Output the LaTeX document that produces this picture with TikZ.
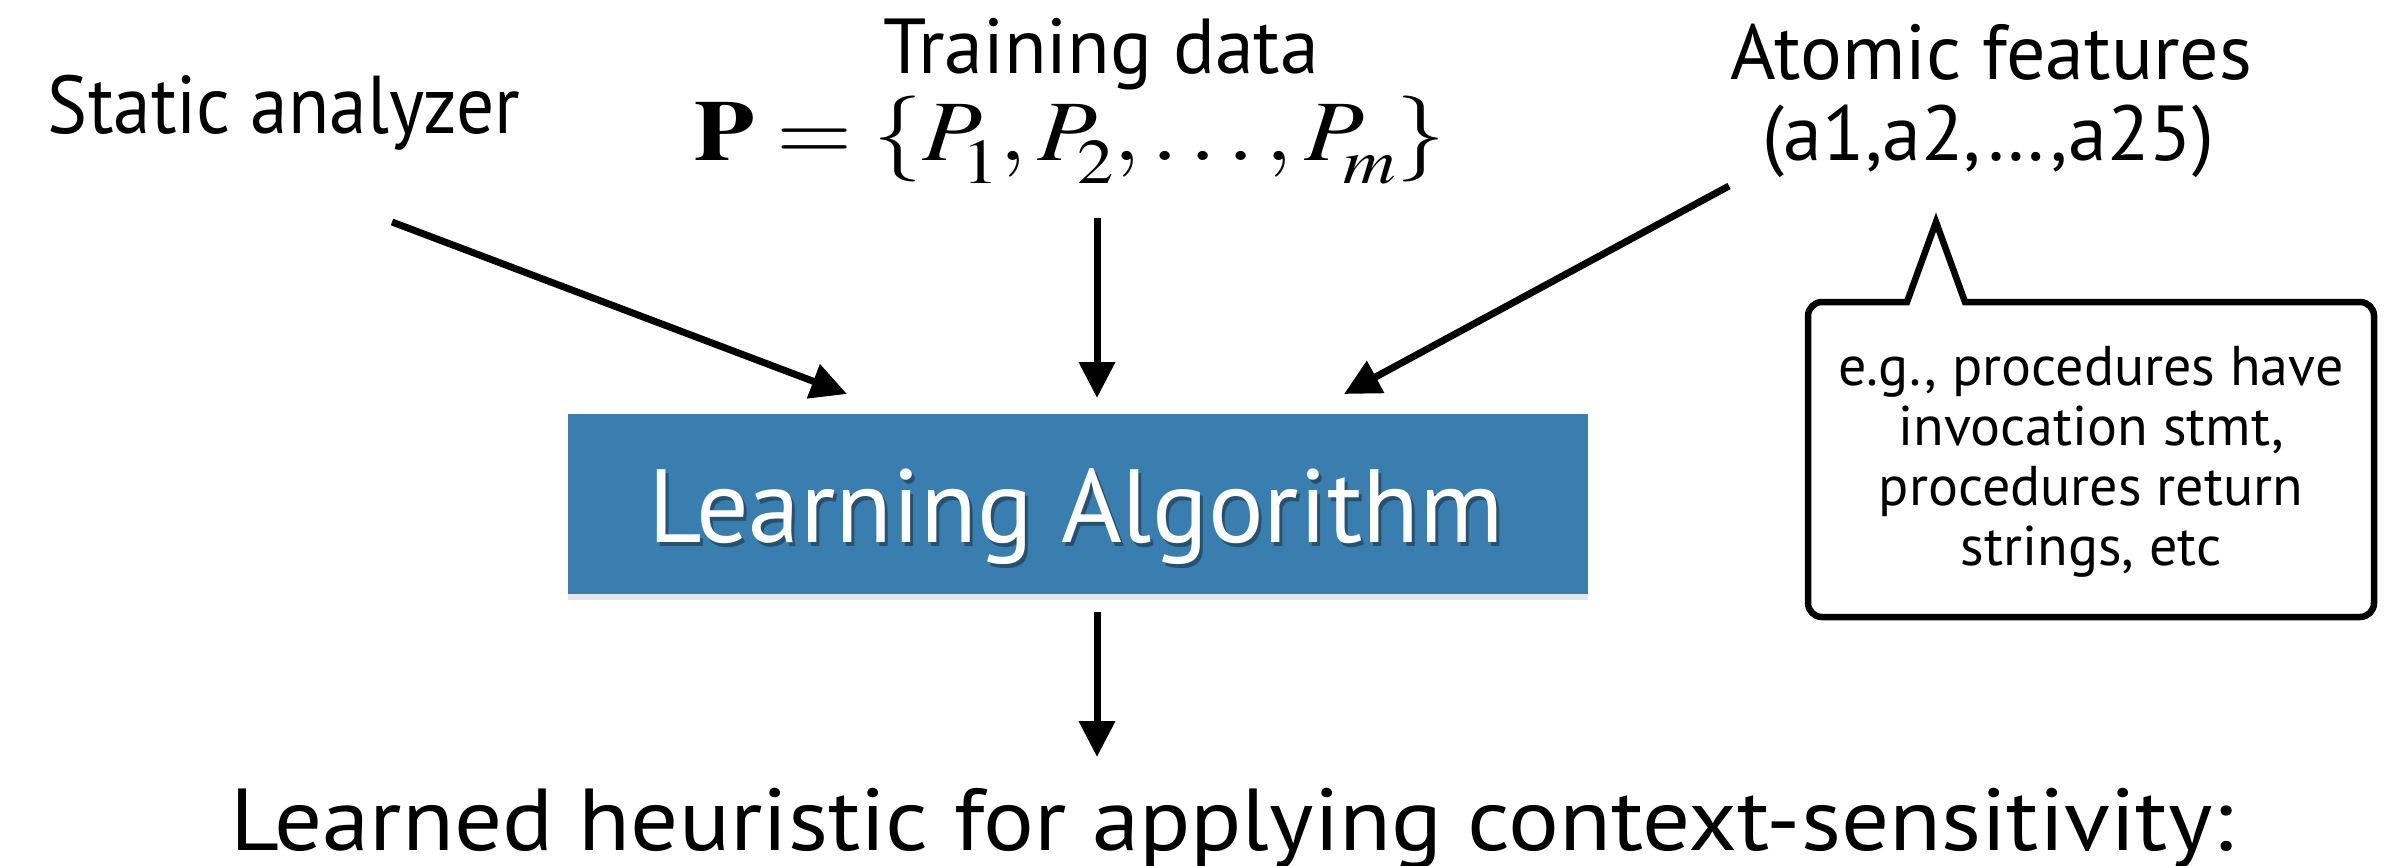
\documentclass[tikz,border=0pt]{standalone}
\usepackage{mathptmx}
\usepackage[no-math]{fontspec}
\setmainfont{PT Sans}
\usetikzlibrary{arrows.meta,shadows,calc}
\definecolor{boxblue}{RGB}{58,126,176}
\tikzset{
  lbl/.style={anchor=base, inner sep=0pt, font=\fontsize{78}{90}\selectfont},
  flow/.style={line width=7pt, -{Triangle[length=36pt,width=35pt]}},
}
\begin{document}
\begin{tikzpicture}[x=1pt,y=-1pt]
\useasboundingbox (0,0) rectangle (2389,865);

% top labels
\node[anchor=base, inner sep=0pt, font=\fontsize{82}{90}\selectfont] (sa) at (284,133) {\scalebox{0.92}[1]{Static analyzer}};
\node[lbl] (td) at (1101,73) {Training data};
\node[anchor=base, inner sep=0pt, font=\fontsize{86}{90}\selectfont] (pf) at (1070,160)
  {\scalebox{1.14}[1]{$\mathbf{P}=\{P_{\!\raisebox{-0.12em}{$\scriptstyle 1$}},P_{\!\raisebox{-0.12em}{$\scriptstyle 2$}},\ldots,P_{\!\raisebox{-0.12em}{$\scriptstyle m$}}\}$}};
\node[lbl] (af) at (1991,79) {Atomic features};
\node[lbl] (aa) at (1988,160) {(a1,a2,\ldots,a25)};

% main box
\node[fill=boxblue, minimum width=1020pt, minimum height=180pt, inner sep=0pt,
      drop shadow={opacity=0.2, shadow xshift=0pt, shadow yshift=-6pt}] (la) at (1078,504) {};
\node[anchor=base, inner sep=0pt, font=\fontsize{104}{120}\selectfont, text=black, opacity=0.35] (lashadow) at (1079,546) {Learning Algorithm};
\node[anchor=base, inner sep=0pt, font=\fontsize{104}{120}\selectfont, text=white] (lat) at (1076,542) {Learning Algorithm};

% bottom label
\node[anchor=base, inner sep=0pt, font=\fontsize{88}{95}\selectfont] (lh) at (1232,850)
  {\scalebox{1.08}[1]{Learned heuristic for applying context-sensitivity:}};

% callout
\coordinate (cbA) at (1936,222);
\coordinate (cbR) at (1965,302);
\coordinate (cbL) at (1907,302);
\draw[line width=6.5pt, fill=white, line join=miter]
  (cbA) -- (cbR) [rounded corners=14pt] -- (2374,302) -- (2374,617) -- (1808,617) -- (1808,302) [sharp corners] -- (cbL) -- cycle;
\node[align=center, inner sep=0pt, font=\fontsize{56}{60}\selectfont] (cb) at (2091,462)
  {e.g., procedures have\\ invocation stmt,\\ procedures return\\ strings, etc};

% connectors
\coordinate (saS) at (392,222);
\coordinate (saT) at (847,394);
\coordinate (pfS) at (1097,218);
\coordinate (pfT) at (1097,398);
\coordinate (afS) at (1729,186);
\coordinate (afT) at (1344,394);
\coordinate (laS) at (1097,612);
\coordinate (laT) at (1097,757);
\draw[flow] (saS) -- (saT);
\draw[flow] (pfS) -- (pfT);
\draw[flow] (afS) -- (afT);
\draw[flow] (laS) -- (laT);
\end{tikzpicture}
\end{document}
